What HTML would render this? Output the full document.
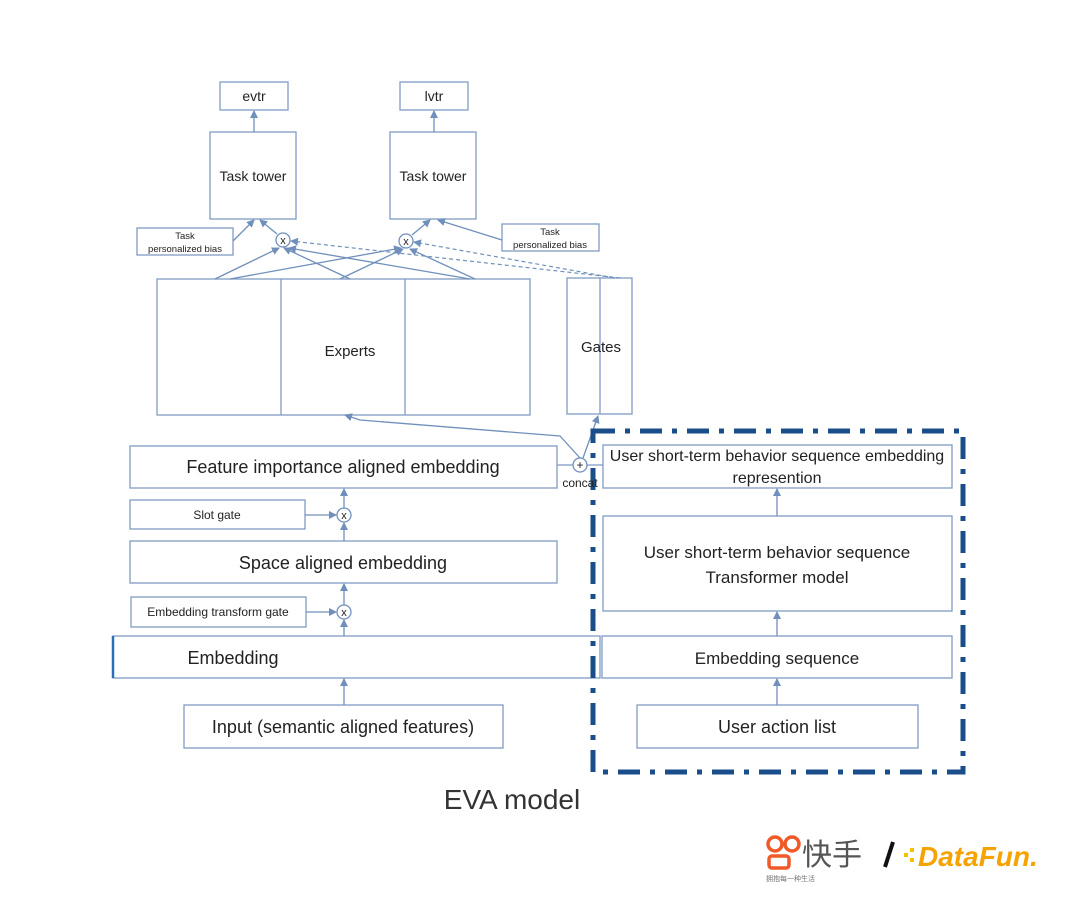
<!DOCTYPE html>
<html><head><meta charset="utf-8"><style>
body{margin:0;background:#fff;width:1080px;height:906px;overflow:hidden}
text{font-family:"Liberation Sans","Noto Sans CJK SC",sans-serif;fill:#222}
</style></head><body>
<svg width="1080" height="906" viewBox="0 0 1080 906" xmlns="http://www.w3.org/2000/svg">
<defs><marker id="a" markerWidth="8" markerHeight="8" refX="7" refY="4" orient="auto" markerUnits="userSpaceOnUse"><path d="M0,0L8,4L0,8z" fill="#7090bb"/></marker></defs>
<g fill="none" stroke="#7f9cc4" stroke-width="1.3">
<rect x="220" y="82" width="68" height="28"/><rect x="400" y="82" width="68" height="28"/>
<rect x="210" y="132" width="86" height="87"/><rect x="390" y="132" width="86" height="87"/>
<rect x="137" y="228" width="96" height="27"/><rect x="502" y="224" width="97" height="27"/>
<rect x="157" y="279" width="373" height="136"/><line x1="281" y1="279" x2="281" y2="415"/><line x1="405" y1="279" x2="405" y2="415"/>
<rect x="567" y="278" width="65" height="136"/><line x1="600" y1="278" x2="600" y2="414"/>
<rect x="130" y="446" width="427" height="42"/>
<rect x="130" y="500" width="175" height="29"/>
<rect x="130" y="541" width="427" height="42"/>
<rect x="131" y="597" width="175" height="30"/>
<rect x="113" y="636" width="487" height="42"/>
<rect x="602" y="636" width="350" height="42"/>
<rect x="184" y="705" width="319" height="43"/>
<rect x="637" y="705" width="281" height="43"/>
<rect x="603" y="516" width="349" height="95"/>
<rect x="603" y="445" width="349" height="43"/>
</g>
<line x1="113" y1="636" x2="113" y2="678" stroke="#2a6fb8" stroke-width="2.5"/>
<g stroke="#7090bb" stroke-width="1.3" fill="none" marker-end="url(#a)">
<line x1="254" y1="132" x2="254" y2="111"/><line x1="434" y1="132" x2="434" y2="111"/>
<line x1="233" y1="241" x2="254" y2="220"/><line x1="277" y1="234" x2="260" y2="220"/>
<line x1="412" y1="235" x2="430" y2="220"/><line x1="502" y1="240" x2="438" y2="220"/>
<line x1="215" y1="279" x2="279" y2="248"/><line x1="350" y1="279" x2="284" y2="248"/><line x1="470" y1="279" x2="289" y2="248"/>
<line x1="230" y1="279" x2="401" y2="248"/><line x1="340" y1="279" x2="403" y2="249"/><line x1="475" y1="279" x2="410" y2="249"/>
<path d="M580,458 L560,436 L360,420 L345,415"/>
<line x1="583" y1="458" x2="598" y2="416"/>
<line x1="344" y1="508" x2="344" y2="489"/>
<line x1="305" y1="515" x2="336" y2="515"/>
<line x1="344" y1="541" x2="344" y2="523"/>
<line x1="344" y1="605" x2="344" y2="584"/><line x1="306" y1="612" x2="336" y2="612"/>
<line x1="344" y1="636" x2="344" y2="620"/>
<line x1="344" y1="705" x2="344" y2="679"/>
<line x1="777" y1="705" x2="777" y2="679"/><line x1="777" y1="636" x2="777" y2="612"/><line x1="777" y1="516" x2="777" y2="489"/>
</g>
<g stroke="#7090bb" stroke-width="1.2" stroke-dasharray="4,3" fill="none" marker-end="url(#a)">
<line x1="620" y1="278" x2="291" y2="241"/><line x1="615" y1="278" x2="414" y2="242"/>
</g>
<line x1="557" y1="465" x2="573" y2="465" stroke="#7f9cc4" stroke-width="1.3"/>
<line x1="587" y1="465" x2="603" y2="465" stroke="#7f9cc4" stroke-width="1.3"/>
<g fill="#fff" stroke="#7090bb" stroke-width="1.3">
<circle cx="283" cy="240" r="7"/><circle cx="406" cy="241" r="7"/><circle cx="580" cy="465" r="7"/><circle cx="344" cy="515" r="7"/><circle cx="344" cy="612" r="7"/>
</g>
<rect x="593" y="431" width="370" height="341" fill="none" stroke="#1a4e8a" stroke-width="5" stroke-dasharray="22,10,5,10"/>
<g text-anchor="middle">
<text x="254" y="101" font-size="14">evtr</text><text x="434" y="101" font-size="14">lvtr</text>
<text x="253" y="181" font-size="14">Task tower</text><text x="433" y="181" font-size="14">Task tower</text>
<text x="185" y="239" font-size="9.5">Task</text><text x="185" y="252" font-size="9.5">personalized bias</text>
<text x="550" y="235" font-size="9.5">Task</text><text x="550" y="248" font-size="9.5">personalized bias</text>
<text x="283" y="244" font-size="11">x</text><text x="406" y="245" font-size="11">x</text>
<text x="344" y="519" font-size="11">x</text><text x="344" y="616" font-size="11">x</text><text x="580" y="469" font-size="12">+</text>
<text x="350" y="356" font-size="15">Experts</text><text x="601" y="352" font-size="15">Gates</text>
<text x="343" y="473" font-size="18">Feature importance aligned embedding</text>
<text x="580" y="487" font-size="12">concat</text>
<text x="217" y="519" font-size="12">Slot gate</text>
<text x="343" y="569" font-size="18">Space aligned embedding</text>
<text x="218" y="616" font-size="12">Embedding transform gate</text>
<text x="233" y="664" font-size="18">Embedding</text>
<text x="777" y="664" font-size="17">Embedding sequence</text>
<text x="343" y="733" font-size="18">Input (semantic aligned features)</text>
<text x="777" y="733" font-size="18">User action list</text>
<text x="777" y="558" font-size="17">User short-term behavior sequence</text>
<text x="777" y="583" font-size="17">Transformer model</text>
<text x="777" y="461" font-size="16">User short-term behavior sequence embedding</text>
<text x="777" y="483" font-size="16">represention</text>
<text x="512" y="809" font-size="28" style="fill:#333">EVA model</text>
</g>
<g>
<circle cx="775" cy="844" r="7" fill="none" stroke="#f05a28" stroke-width="3.5"/><circle cx="792" cy="844" r="7" fill="none" stroke="#f05a28" stroke-width="3.5"/>
<rect x="769" y="856" width="20" height="12" rx="3" fill="none" stroke="#f05a28" stroke-width="3.5"/>
<text x="802" y="865" font-size="30" style="fill:#555">快手</text>
<text x="766" y="881" font-size="7" style="fill:#777">拥抱每一种生活</text>
<line x1="885" y1="867" x2="893" y2="842" stroke="#111" stroke-width="4"/>
<text x="918" y="866" font-size="28" font-weight="bold" font-style="italic" style="fill:#f5a300">DataFun.</text>
<rect x="904" y="853" width="4" height="4" fill="#f5c000"/><rect x="910" y="848" width="4" height="4" fill="#f5c000"/><rect x="910" y="858" width="4" height="4" fill="#f5c000"/>
</g>
</svg>
</body></html>
